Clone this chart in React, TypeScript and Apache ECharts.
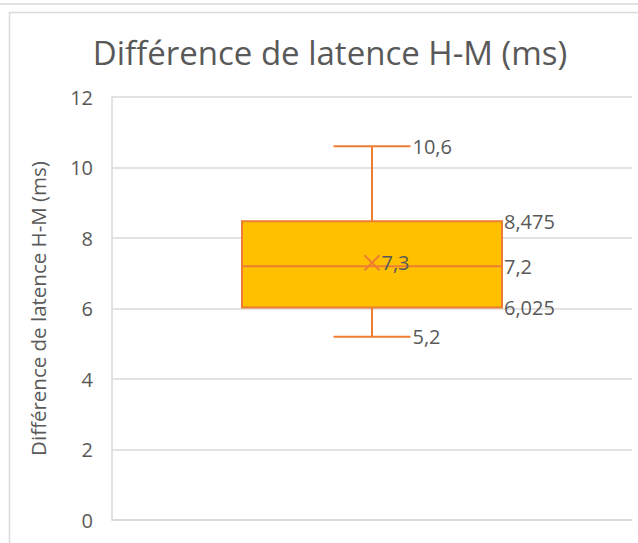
import React, { useEffect, useRef } from "react";
import * as echarts from "echarts";

const title = "Différence de latence H-M (ms)";
const axisName = "Différence de latence H-M (ms)";
const categories = [""];
// [min, Q1, median, Q3, max, mean]
const boxValues = [[5.2, 6.025, 7.2, 8.475, 10.6, 7.3]];
const yTicks = { min: 0, max: 12, interval: 2 };

const FONT = "Open Sans";
const TEXT = "#595959";
const ORANGE = "#ED7D31";
const FILL = "#FFC000";
const fmt = (v: number) => String(v).replace(".", ",");

export default function App() {
  const ref = useRef<HTMLDivElement>(null);
  useEffect(() => {
    document.body.style.margin = "0";
    const chart = echarts.init(ref.current!, null, { renderer: "svg" });
    chart.setOption({
      animation: false,
      backgroundColor: "#fff",
      graphic: [
        { type: "line", shape: { x1: 0, y1: 4, x2: 638, y2: 4 }, style: { stroke: "#E3E3E3", lineWidth: 2 }, z: -10 },
        { type: "rect", shape: { x: 9.5, y: 12.5, width: 700, height: 600 }, style: { fill: "#fff", stroke: "#D9D9D9", lineWidth: 1.5 }, z: -10 },
      ],
      title: {
        text: title,
        left: 325,
        textAlign: "center",
        top: 31,
        textStyle: { fontFamily: FONT, fontSize: 33, fontWeight: "normal", color: TEXT },
      },
      grid: { left: 112, right: 6, top: 97, bottom: 23 },
      xAxis: {
        type: "category",
        data: categories,
        axisLine: { show: true, lineStyle: { color: "#D9D9D9", width: 1.5 } },
        axisTick: { show: false },
        axisLabel: { show: false },
      },
      yAxis: {
        type: "value",
        min: yTicks.min,
        max: yTicks.max,
        interval: yTicks.interval,
        name: axisName,
        nameLocation: "middle",
        nameGap: 64,
        nameTextStyle: { fontFamily: FONT, fontSize: 20.5, color: TEXT },
        axisLine: { show: true, lineStyle: { color: "#D9D9D9", width: 1.5 } },
        axisTick: { show: false },
        axisLabel: { fontFamily: FONT, fontSize: 20, color: TEXT, margin: 19 },
        splitLine: { lineStyle: { color: "#D9D9D9", width: 1.5 } },
      },
      series: [
        {
          type: "custom",
          data: boxValues.map((d, i) => [i, ...d]),
          encode: { x: 0, y: [1, 2, 3, 4, 5] },
          renderItem: (params: any, api: any) => {
            const idx = api.value(0);
            const vals = [1, 2, 3, 4, 5, 6].map((k) => api.value(k));
            const [mn, q1, med, q3, mx, mean] = vals;
            const cx = api.coord([idx, 0])[0];
            const band = api.size([1, 0])[0];
            const hw = band * 0.25;
            const cw = band * 0.074;
            const y = (v: number) => api.coord([idx, v])[1];
            const lineStyle = { stroke: ORANGE, lineWidth: 2 };
            const lbl = (x: number, v: number, text: string) => ({
              type: "text",
              style: {
                x,
                y: y(v),
                text,
                fill: TEXT,
                fontFamily: FONT,
                fontSize: 20,
                verticalAlign: "middle",
                align: "left",
              },
            });
            const mk = 7.5;
            const ym = y(mean);
            return {
              type: "group",
              children: [
                { type: "line", shape: { x1: cx, y1: y(mx), x2: cx, y2: y(q3) }, style: lineStyle },
                { type: "line", shape: { x1: cx, y1: y(q1), x2: cx, y2: y(mn) }, style: lineStyle },
                { type: "line", shape: { x1: cx - cw, y1: y(mx), x2: cx + cw, y2: y(mx) }, style: lineStyle },
                { type: "line", shape: { x1: cx - cw, y1: y(mn), x2: cx + cw, y2: y(mn) }, style: lineStyle },
                {
                  type: "rect",
                  shape: { x: cx - hw, y: y(q3), width: hw * 2, height: y(q1) - y(q3) },
                  style: { fill: FILL, stroke: ORANGE, lineWidth: 2 },
                },
                { type: "line", shape: { x1: cx - hw, y1: y(med), x2: cx + hw, y2: y(med) }, style: lineStyle },
                { type: "line", shape: { x1: cx - mk, y1: ym - mk, x2: cx + mk, y2: ym + mk }, style: lineStyle },
                { type: "line", shape: { x1: cx - mk, y1: ym + mk, x2: cx + mk, y2: ym - mk }, style: lineStyle },
                lbl(cx + cw + 2, mx, fmt(mx)),
                lbl(cx + cw + 2, mn, fmt(mn)),
                lbl(cx + hw + 2, q3, fmt(q3)),
                lbl(cx + hw + 2, med, fmt(med)),
                lbl(cx + hw + 2, q1, fmt(q1)),
                lbl(cx + mk + 2, mean, fmt(mean)),
              ],
            };
          },
        },
      ],
    });
    return () => chart.dispose();
  }, []);
  return <div ref={ref} style={{ width: 638, height: 543 }} />;
}
